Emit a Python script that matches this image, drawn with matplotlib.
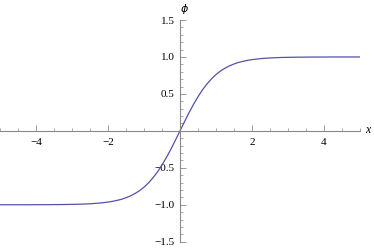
import matplotlib
matplotlib.use("Agg")
import matplotlib.pyplot as plt
from matplotlib.ticker import FixedLocator, MultipleLocator

# values (phi vs x)
x_pts = [-5.0, -4.75, -4.5, -4.25, -4.0, -3.75, -3.5, -3.25, -3.0, -2.75, -2.5,
         -2.25, -2.0, -1.875, -1.75, -1.625, -1.5, -1.375, -1.25, -1.125, -1.0,
         -0.875, -0.75, -0.625, -0.5, -0.375, -0.25, -0.125, 0.0,
         0.125, 0.25, 0.375, 0.5, 0.625, 0.75, 0.875, 1.0,
         1.125, 1.25, 1.375, 1.5, 1.625, 1.75, 1.875, 2.0, 2.25, 2.5,
         2.75, 3.0, 3.25, 3.5, 3.75, 4.0, 4.25, 4.5, 4.75, 5.0]
phi_pts = [-1.0, -1.0, -1.0, -1.0, -0.999, -0.999, -0.998, -0.997, -0.995, -0.992, -0.987,
           -0.978, -0.964, -0.954, -0.941, -0.926, -0.905, -0.880, -0.848, -0.810, -0.762,
           -0.704, -0.635, -0.555, -0.462, -0.358, -0.245, -0.124, 0.0,
           0.124, 0.245, 0.358, 0.462, 0.555, 0.635, 0.704, 0.762,
           0.810, 0.848, 0.880, 0.905, 0.926, 0.941, 0.954, 0.964, 0.978, 0.987,
           0.992, 0.995, 0.997, 0.998, 0.999, 0.999, 1.0, 1.0, 1.0, 1.0]

x_ticks = [-4, -2, 2, 4]
y_ticks = [-1.5, -1.0, -0.5, 0.5, 1.0, 1.5]

plt.rcParams['font.family'] = ['Liberation Serif', 'DejaVu Serif']
plt.rcParams['axes.unicode_minus'] = True

fig = plt.figure(figsize=(3.74, 2.48), dpi=100)
ax = fig.add_axes([0.0, 0.0254, 360 / 374, 0.8939])

ax.plot(x_pts, phi_pts, color='#5252ac', lw=0.9)
ax.set_xlim(-5, 5)
ax.set_ylim(-1.5, 1.5)

for s in ['top', 'right']:
    ax.spines[s].set_visible(False)
ax.spines['left'].set_position(('data', 0))
ax.spines['bottom'].set_position(('data', 0))
for s in ['left', 'bottom']:
    ax.spines[s].set_color('#888888')
    ax.spines[s].set_linewidth(0.8)

ax.xaxis.set_major_locator(FixedLocator(x_ticks))
ax.xaxis.set_minor_locator(MultipleLocator(0.5))
ax.yaxis.set_major_locator(FixedLocator(y_ticks))
ax.yaxis.set_minor_locator(MultipleLocator(0.1))
ax.set_xticklabels([str(v).replace('-', '\u2212') for v in x_ticks])
ax.set_yticklabels([f"{v:.1f}".replace('-', '\u2212') for v in y_ticks])

ax.tick_params(axis='x', which='major', direction='in', length=4, width=0.6,
               color='#888888', labelsize=8, pad=5)
ax.tick_params(axis='x', which='minor', direction='in', length=2, width=0.5,
               color='#888888')
ax.tick_params(axis='y', which='major', direction='in', length=4, width=0.6,
               color='#888888', labelsize=8, pad=4)
ax.tick_params(axis='y', which='minor', direction='in', length=2, width=0.5,
               color='#888888')
ax.yaxis.set_ticks_position('left')

fig.text(184 / 374, 1 - 9 / 248, r'$\phi$', fontsize=8, ha='center', va='center')
fig.text(368 / 374, 1 - 130 / 248, 'x', fontsize=8.5, style='italic',
         ha='center', va='center')

fig.savefig('out.png', dpi=100)
